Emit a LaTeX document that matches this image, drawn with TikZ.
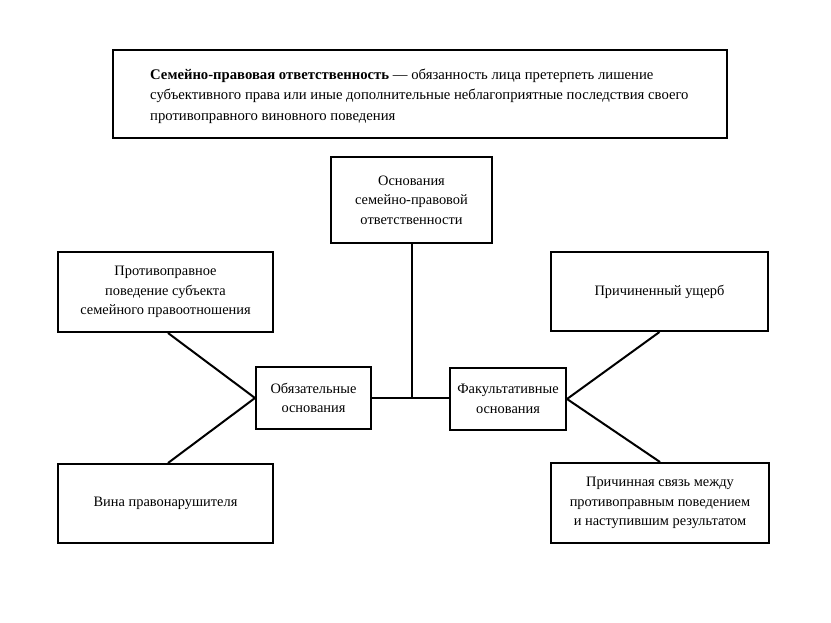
\documentclass[tikz,border=0pt]{standalone}
\usepackage{fontspec}
\setmainfont{Liberation Serif}
\begin{document}
\begin{tikzpicture}[x=1pt,y=-1pt,
  box/.style={draw,line width=2pt,inner sep=0pt,align=center,font=\fontsize{14.4}{19.6}\selectfont},
  conn/.style={line width=2pt}]
\useasboundingbox[fill=white] (0,0) rectangle (831,623);
\node[box,minimum width=614pt,minimum height=88pt] (def) at (420,94) {};
\node[anchor=west,align=left,inner sep=0pt,font=\fontsize{14.7}{20.5}\selectfont] (deftext) at (150,96)
 {\textbf{Семейно-правовая ответственность} — обязанность лица претерпеть лишение\\
 субъективного права или иные дополнительные неблагоприятные последствия своего\\
 противоправного виновного поведения};
\node[box,minimum width=161pt,minimum height=86pt] (osn) at (411.5,200) {Основания\\семейно-правовой\\ответственности};
\node[box,minimum width=215pt,minimum height=80pt] (prot) at (165.5,292) {Противоправное\\поведение субъекта\\семейного правоотношения};
\node[box,minimum width=217pt,minimum height=79pt] (usch) at (659.5,291.5) {Причиненный ущерб};
\node[box,minimum width=115pt,minimum height=62pt] (obyaz) at (313.5,398) {Обязательные\\основания};
\node[box,minimum width=116pt,minimum height=62pt] (fak) at (508,399) {Факультативные\\основания};
\node[box,minimum width=215pt,minimum height=79pt] (vina) at (165.5,503.5) {Вина правонарушителя};
\node[box,minimum width=218pt,minimum height=80pt] (svyaz) at (660,503) {Причинная связь между\\противоправным поведением\\и наступившим результатом};
\coordinate (j) at (411.5,398);
\draw[conn] (osn.south) -- (j);
\draw[conn] (obyaz.east) -- (obyaz.east -| fak.west);
\draw[conn] ([xshift=2.5pt]prot.south) -- (obyaz.west);
\draw[conn] ([xshift=2.5pt]vina.north) -- (obyaz.west);
\draw[conn] (usch.south) -- (fak.east);
\draw[conn] (svyaz.north) -- (fak.east);
\end{tikzpicture}
\end{document}
